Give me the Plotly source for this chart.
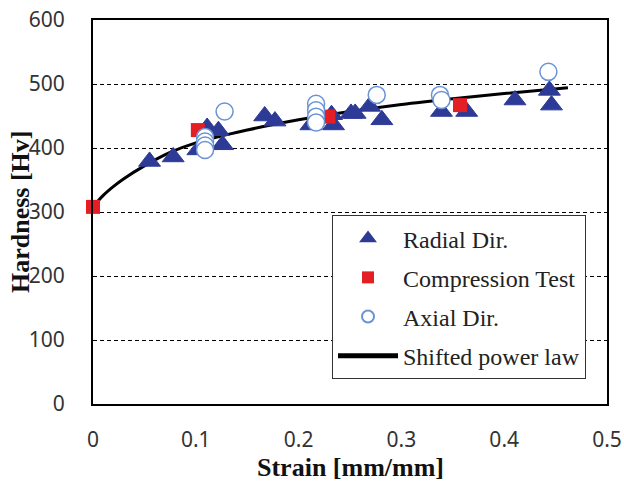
import plotly.graph_objects as go

# Radial direction hardness measurements
radial_strain = [0.055, 0.078, 0.102, 0.111, 0.122, 0.126, 0.167, 0.177, 0.212,
                 0.232, 0.234, 0.251, 0.255, 0.269, 0.281, 0.339, 0.3635, 0.4105,
                 0.444, 0.446]
radial_hv = [379, 386, 397, 432, 427, 405, 450, 442, 436,
             452, 436, 454, 454, 465, 444, 457, 457, 475,
             490, 467]

# Compression test points
comp_strain = [0.0, 0.102, 0.229, 0.357]
comp_hv = [308, 428, 449, 467]

# Axial direction hardness measurements
axial_strain = [0.109, 0.109, 0.109, 0.109, 0.128, 0.217, 0.217, 0.217, 0.217,
                0.276, 0.3375, 0.339, 0.443]
axial_hv = [417, 410, 404, 397, 457, 469, 459, 449, 440,
            483, 483, 475, 519]

# Shifted power law fit curve
fit_strain = [0.0, 0.01, 0.02, 0.03, 0.05, 0.075, 0.1, 0.15, 0.2, 0.25, 0.3,
              0.35, 0.4, 0.462]
fit_hv = [308, 326, 340, 352, 372, 393, 408, 428, 444, 457, 468, 477, 485, 494]

x_ticks = [0, 0.1, 0.2, 0.3, 0.4, 0.5]
x_tick_text = ["0", "0.1", "0.2", "0.3", "0.4", "0.5"]
y_ticks = [0, 100, 200, 300, 400, 500, 600]

fig = go.Figure()

fig.add_trace(go.Scatter(
    x=fit_strain, y=fit_hv, mode="lines", name="Shifted power law",
    line=dict(color="black", width=3, shape="spline"),
    legendrank=4, legendgroup="d", cliponaxis=False,
))
fig.add_trace(go.Scatter(
    x=radial_strain, y=radial_hv, mode="markers", name="Radial Dir.",
    marker=dict(symbol="triangle-up", size=19, color="#2E3B96",
                line=dict(color="#2E3B96", width=1)),
    legendrank=1, legendgroup="a", cliponaxis=False,
))
fig.add_trace(go.Scatter(
    x=comp_strain, y=comp_hv, mode="markers", name="Compression Test",
    marker=dict(symbol="square", size=14, color="#E31E25"),
    legendrank=2, legendgroup="b", cliponaxis=False,
))
fig.add_trace(go.Scatter(
    x=axial_strain, y=axial_hv, mode="markers", name="Axial Dir.",
    marker=dict(symbol="circle", size=17, color="white",
                line=dict(color="#6A93D6", width=1.5)),
    legendrank=3, legendgroup="c", cliponaxis=False,
))

tick_font = dict(family="Noto Sans", size=21, color="#333333")
title_font = dict(family="Liberation Serif", size=26, color="#111111")

fig.update_layout(
    width=624, height=487,
    margin=dict(l=93, r=17, t=20, b=83),
    paper_bgcolor="white", plot_bgcolor="white",
    xaxis=dict(
        range=[0, 0.5], tickvals=x_ticks, ticktext=x_tick_text,
        showgrid=False, zeroline=False, automargin=False,
        showline=True, linecolor="black", linewidth=2, mirror=True,
        ticks="", tickfont=tick_font, ticklabelstandoff=16,
    ),
    yaxis=dict(
        range=[0, 600], tickvals=y_ticks,
        showgrid=True, gridcolor="black", gridwidth=1, griddash="4px,3px",
        zeroline=False, automargin=False,
        showline=True, linecolor="black", linewidth=2, mirror=True,
        ticks="", tickfont=tick_font, ticklabelstandoff=22,
    ),
    showlegend=True,
    legend=dict(
        x=0.465, y=0.492, xanchor="left", yanchor="top",
        bgcolor="white", bordercolor="#333333", borderwidth=1,
        font=dict(family="Liberation Serif", size=24, color="#222222"),
        itemwidth=60, tracegroupgap=5, traceorder="grouped",
        itemsizing="constant",
    ),
    annotations=[
        dict(text="<b>Strain [mm/mm]</b>", xref="paper", yref="paper",
             x=0.5, y=0, yshift=-63, xanchor="center", yanchor="middle",
             showarrow=False, font=title_font),
        dict(text="<b>Hardness [Hv]</b>", xref="paper", yref="paper",
             x=0, xshift=-73, y=0.5, xanchor="center", yanchor="middle",
             textangle=-90, showarrow=False, font=title_font),
    ],
)

fig.write_html("out.html")
